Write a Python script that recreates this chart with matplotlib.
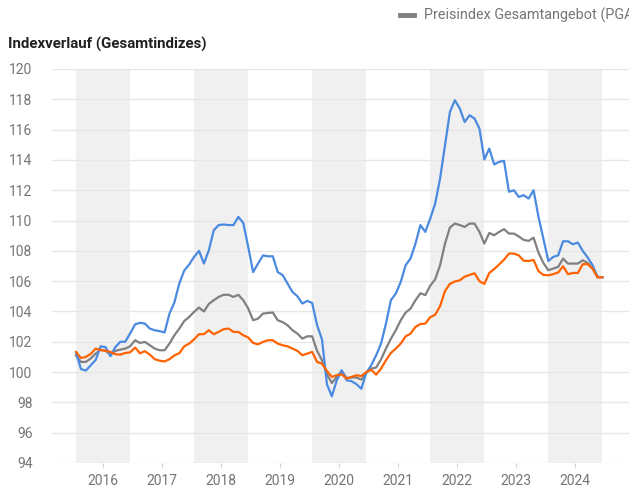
import matplotlib
matplotlib.use("Agg")
import matplotlib.pyplot as plt
import numpy as np

plt.rcParams['font.family'] = ['Roboto', 'DejaVu Sans']

# monatliche Werte Jul 2015 .. Jun 2024
jahre = [2016, 2017, 2018, 2019, 2020, 2021, 2022, 2023, 2024]

blau = [101.3, 100.2, 100.1, 100.45, 100.8, 101.7, 101.65, 101.05, 101.65, 102.0, 102.0, 102.55,
        103.15, 103.25, 103.2, 102.87, 102.76, 102.7, 102.62, 103.86, 104.6, 105.85, 106.7, 107.1,
        107.6, 108.0, 107.16, 108.04, 109.36, 109.7, 109.74, 109.7, 109.7, 110.24, 109.84, 108.26,
        106.6, 107.16, 107.7, 107.64, 107.64, 106.6, 106.4, 105.84, 105.29, 105.0, 104.52, 104.7,
        104.56, 103.1, 102.15, 99.2, 98.4, 99.46, 100.12, 99.46, 99.4, 99.2, 98.9, 99.95,
        100.45, 101.1, 101.88, 103.2, 104.74, 105.18, 105.95, 107.05, 107.5, 108.48, 109.7, 109.25,
        110.13, 111.12, 112.77, 114.97, 117.17, 117.94, 117.4, 116.5, 116.95, 116.73, 116.07, 114.03,
        114.75, 113.7, 113.87, 113.94, 111.9, 112.0, 111.56, 111.67, 111.45, 112.0, 110.24, 108.8,
        107.33, 107.6, 107.7, 108.63, 108.63, 108.43, 108.55, 108.0, 107.56, 107.05, 106.28, 106.26]

grau = [101.1, 100.67, 100.67, 100.9, 101.22, 101.48, 101.4, 101.15, 101.4, 101.48, 101.55, 101.7,
        102.1, 101.92, 101.99, 101.77, 101.55, 101.44, 101.44, 101.88, 102.43, 102.87, 103.37, 103.64,
        103.97, 104.26, 104.0, 104.5, 104.74, 104.96, 105.1, 105.1, 104.96, 105.1, 104.74, 104.2,
        103.42, 103.53, 103.86, 103.9, 103.93, 103.42, 103.3, 103.09, 102.76, 102.54, 102.21, 102.36,
        102.36, 101.4, 100.78, 99.85, 99.28, 99.68, 100.07, 99.61, 99.64, 99.64, 99.5, 99.94,
        100.23, 100.3, 100.84, 101.55, 102.2, 102.76, 103.42, 103.93, 104.19, 104.74, 105.2, 105.08,
        105.7, 106.12, 107.05, 108.48, 109.54, 109.8, 109.7, 109.58, 109.8, 109.8, 109.25, 108.48,
        109.18, 109.03, 109.25, 109.43, 109.14, 109.14, 108.95, 108.72, 108.66, 108.87, 107.88, 107.2,
        106.72, 106.83, 106.94, 107.49, 107.16, 107.16, 107.16, 107.38, 107.2, 106.83, 106.28, 106.26]

orange = [101.33, 100.93, 101.0, 101.2, 101.55, 101.45, 101.4, 101.33, 101.18, 101.15, 101.26, 101.3,
          101.62, 101.24, 101.38, 101.15, 100.85, 100.75, 100.7, 100.85, 101.1, 101.25, 101.7, 101.88,
          102.16, 102.5, 102.5, 102.76, 102.5, 102.65, 102.83, 102.87, 102.65, 102.65, 102.43, 102.28,
          101.92, 101.83, 101.99, 102.1, 102.1, 101.88, 101.77, 101.7, 101.55, 101.4, 101.11, 101.22,
          101.33, 100.67, 100.56, 100.07, 99.68, 99.79, 99.85, 99.57, 99.68, 99.79, 99.74, 100.0,
          100.16, 99.83, 100.23, 100.78, 101.26, 101.55, 101.88, 102.36, 102.54, 102.98, 103.17, 103.2,
          103.62, 103.78, 104.35, 105.35, 105.82, 105.98, 106.05, 106.3, 106.41, 106.52, 106.0, 105.82,
          106.54, 106.8, 107.1, 107.42, 107.82, 107.82, 107.7, 107.35, 107.33, 107.4, 106.66, 106.41,
          106.39, 106.46, 106.57, 106.98, 106.46, 106.54, 106.54, 107.12, 107.12, 106.83, 106.24, 106.26]

x = np.arange(len(blau))

fig = plt.figure(figsize=(6.29, 4.91), dpi=100)
ax = fig.add_axes([52/629, 1 - 463/491, 1 - 52/629, (463 - 69)/491])

# graue Baender jedes zweite Jahr
for s in range(0, len(x), 24):
    ax.axvspan(s, s + 11, color='#f0f0f0', lw=0, zorder=0)

ax.plot(x, grau, color='#808080', lw=1.6, zorder=3)
ax.plot(x, blau, color='#4a8ae0', lw=1.6, zorder=4)
ax.plot(x, orange, color='#ff6200', lw=1.6, zorder=5)

ax.set_ylim(94, 120)
ax.set_yticks(range(94, 121, 2))
ax.set_xlim(-4.88, 112.4)
ax.set_xticks([5.5 + 12 * i for i in range(len(jahre))])
ax.set_xticklabels([str(j) for j in jahre])

ax.grid(axis='y', color='#e6e6e6', lw=1, zorder=1)
for sp in ax.spines.values():
    sp.set_visible(False)
ax.tick_params(axis='y', length=0, pad=14, labelsize=10, labelcolor='#757575')
ax.tick_params(axis='x', length=3, color='#d0d0d0', pad=5, labelsize=10, labelcolor='#757575')

fig.text(8/629, 1 - 44/491, 'Indexverlauf (Gesamtindizes)', fontsize=10.8, fontweight='bold',
         color='#212121', va='center', ha='left')

# Legende (rechts abgeschnitten wie im Original)
fig.add_artist(plt.Line2D([400/629, 414/629], [1 - 15/491, 1 - 15/491], color='#808080', lw=3.5))
fig.text(424/629, 1 - 15/491, 'Preisindex Gesamtangebot (PGA)', fontsize=10.35, color='#757575',
         va='center', ha='left')

fig.savefig('out.png', dpi=100)
